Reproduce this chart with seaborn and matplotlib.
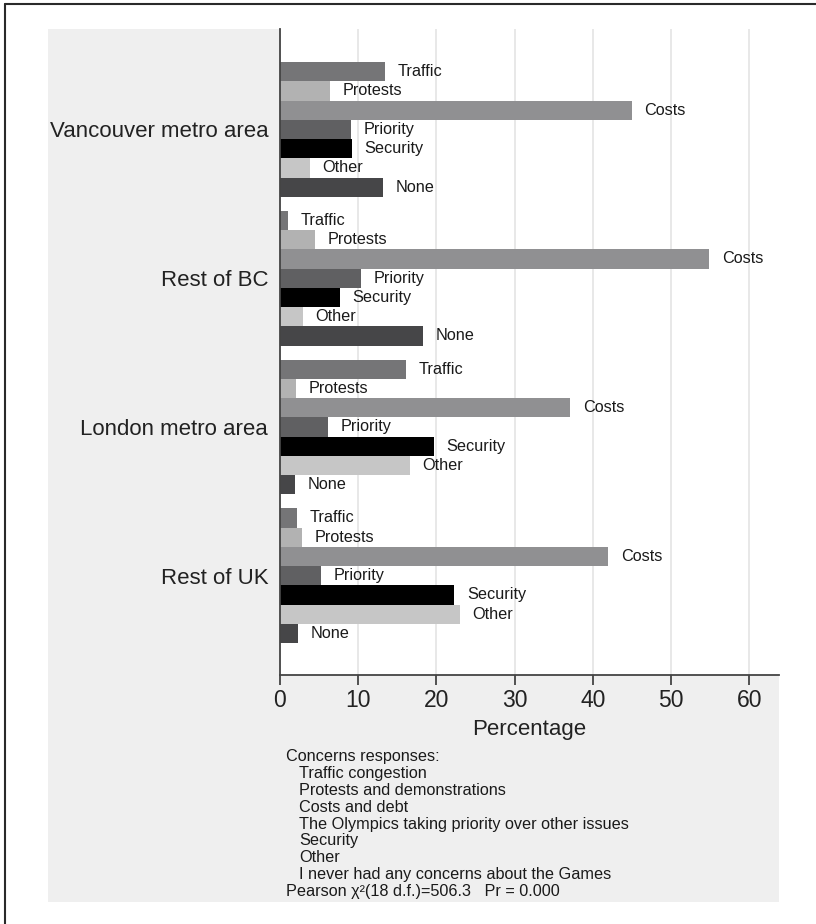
import matplotlib
matplotlib.use("Agg")
import matplotlib.pyplot as plt
from matplotlib.patches import Rectangle
from matplotlib.lines import Line2D
import seaborn as sns
import pandas as pd

# Regions and response categories
areas = ["Vancouver metro area", "Rest of BC", "London metro area", "Rest of UK"]
concerns = ["Traffic", "Protests", "Costs", "Priority", "Security", "Other", "None"]

# Percentage of respondents per concern, one value per region
traffic = [13.4, 1.0, 16.1, 2.2]
protests = [6.4, 4.5, 2.1, 2.8]
costs = [45.0, 54.9, 37.1, 42.0]
priority = [9.1, 10.4, 6.2, 5.2]
security = [9.2, 7.7, 19.7, 22.3]
other = [3.8, 2.9, 16.6, 23.0]
none_ = [13.2, 18.3, 1.9, 2.3]

bar_colors = ["#757577", "#b2b2b2", "#909092", "#606062", "#000000", "#c6c6c6", "#464648"]

x_ticks = [0, 10, 20, 30, 40, 50, 60]

note_title = "Concerns responses:"
note_items = [
    "Traffic congestion",
    "Protests and demonstrations",
    "Costs and debt",
    "The Olympics taking priority over other issues",
    "Security",
    "Other",
    "I never had any concerns about the Games",
]
note_stat = "Pearson \u03c7\u00b2(18 d.f.)=506.3   Pr = 0.000"

series = [traffic, protests, costs, priority, security, other, none_]
rows = []
for concern, vals in zip(concerns, series):
    for area, v in zip(areas, vals):
        rows.append({"area": area, "concern": concern, "pct": v})
df = pd.DataFrame(rows)

sns.set_theme(style="white")
plt.rcParams["font.family"] = ["Liberation Sans", "DejaVu Sans"]

W, H = 816, 924
fig = plt.figure(figsize=(W / 100, H / 100), dpi=100)
fig.patch.set_facecolor("white")

# light grey panel behind the plot and notes
fig.patches.append(Rectangle((48 / W, 1 - 902 / H), (779 - 48) / W, (902 - 29) / H,
                             transform=fig.transFigure, facecolor="#efefef",
                             edgecolor="none", zorder=-10))
# outer frame (left and top edges)
fig.lines.append(Line2D([4.5 / W, 4.5 / W], [0, 1 - 3.5 / H], transform=fig.transFigure,
                        color="#2a2a2a", lw=1.5, zorder=-10))
fig.lines.append(Line2D([4.5 / W, 1], [1 - 3.5 / H, 1 - 3.5 / H], transform=fig.transFigure,
                        color="#2a2a2a", lw=1.5, zorder=-10))

ax = fig.add_axes([280 / W, 1 - 675 / H, (779 - 280) / W, (675 - 29) / H])
ax.set_facecolor("white")
ax.set_zorder(1)

sns.barplot(data=df, y="area", x="pct", hue="concern", order=areas, hue_order=concerns,
            orient="h", palette=bar_colors, width=0.906, gap=0, dodge=True,
            errorbar=None, saturation=1, legend=False, edgecolor="none", ax=ax)

for cont, name in zip(ax.containers, concerns):
    ax.bar_label(cont, labels=[name] * len(areas), padding=9, fontsize=11.7,
                 color="#1a1a1a")

ax.set_xlim(0, 63.8)
ax.set_ylim(3.668, -0.675)
ax.set_xticks(x_ticks)
ax.set_xticklabels([str(t) for t in x_ticks])
ax.xaxis.grid(True, color="#e6e6e6", lw=1.3)
ax.yaxis.grid(False)
ax.set_axisbelow(True)

for side in ["top", "right"]:
    ax.spines[side].set_visible(False)
for side in ["left", "bottom"]:
    ax.spines[side].set_color("#444444")
    ax.spines[side].set_linewidth(1.3)

ax.tick_params(axis="x", bottom=True, length=7, width=1.3, color="#444444",
               labelsize=16.5, labelcolor="#222222", pad=3)
ax.tick_params(axis="y", left=False, length=0, labelsize=16, labelcolor="#222222", pad=8.5)
ax.set_ylabel("")
ax.set_xlabel("Percentage", fontsize=16, color="#222222", labelpad=5)

# notes below the plot
fs = 11.7
y0 = 757
step = 16.8
fig.text(286 / W, 1 - y0 / H, note_title, fontsize=fs, color="#1a1a1a", va="center")
for i, line in enumerate(note_items):
    fig.text(299 / W, 1 - (y0 + step * (i + 1)) / H, line, fontsize=fs,
             color="#1a1a1a", va="center")
fig.text(286 / W, 1 - (y0 + step * (len(note_items) + 1)) / H, note_stat, fontsize=fs,
         color="#1a1a1a", va="center")

fig.savefig("out.png", dpi=100)
